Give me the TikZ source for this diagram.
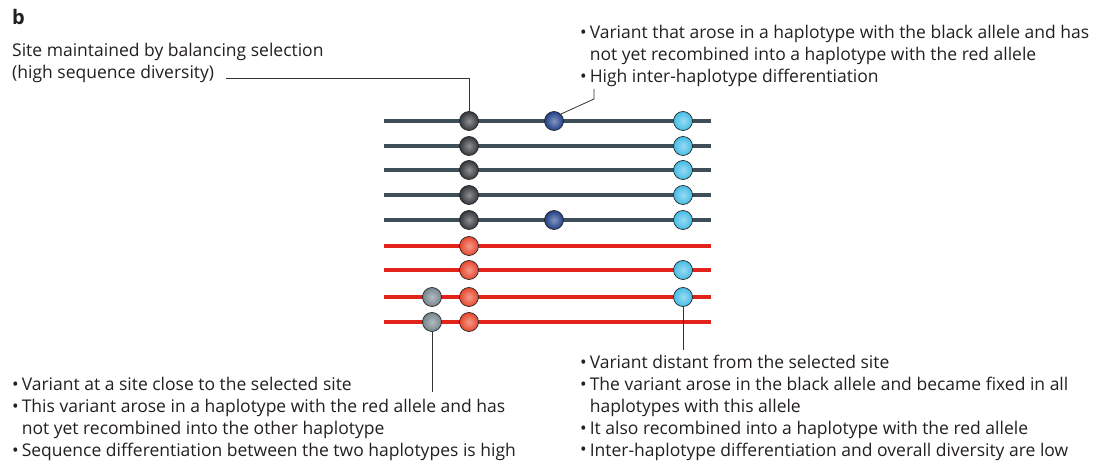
\documentclass[tikz,border=0pt]{standalone}
\usepackage{fontspec}
\setmainfont{Open Sans}
\usetikzlibrary{calc}
\definecolor{hapblack}{HTML}{3D4E58}
\definecolor{hapred}{HTML}{E2231A}
\definecolor{cblack}{HTML}{33373B}
\definecolor{cred}{HTML}{E8472C}
\definecolor{clblue}{HTML}{45BDE6}
\definecolor{cdblue}{HTML}{1F3F88}
\definecolor{cgrey}{HTML}{75848D}
\definecolor{txt}{HTML}{231F20}
\newcommand{\bul}{\raisebox{0.3pt}{\textbullet}}
\begin{document}
\begin{tikzpicture}[x=1pt,y=-1pt,
  hap/.style={line width=3.6pt},
  ballnode/.style={circle,minimum size=19pt,inner sep=0pt,draw=black!85,line width=0.7pt,inner color=#1!55!white,outer color=#1},
  leader/.style={draw=black!80,line width=0.8pt},
  txtblock/.style={anchor=base west,inner sep=0pt,text=txt,font=\fontsize{17.5}{21.8}\selectfont}
]
\useasboundingbox (0,0) rectangle (1112,462);
% haplotype lines
\foreach \y [count=\i] in {121,146,170,195,220}
  \draw[hap,hapblack] (384,\y) -- (711,\y);
\foreach \y in {246,270,297,322}
  \draw[hap,hapred] (384,\y) -- (711,\y);
% selected site
\foreach \y [count=\i] in {121,146,170,195,220}
  \node[ballnode=cblack] (s\i) at (469,\y) {};
\foreach \y [count=\i from 6] in {246,270,297,322}
  \node[ballnode=cred] (s\i) at (469,\y) {};
% blue variant
\node[ballnode=cdblue] (b1) at (554,121) {};
\node[ballnode=cdblue] (b5) at (554,220) {};
% light blue variant
\foreach \y/\n in {121/1,146/2,170/3,195/4,220/5,270/7,297/8}
  \node[ballnode=clblue] (l\n) at (683,\y) {};
% grey variant
\node[ballnode=cgrey] (g8) at (432,297) {};
\node[ballnode=cgrey] (g9) at (432,322) {};
% texts
\node[anchor=base west,inner sep=0pt,text=txt,font=\fontsize{20}{22}\selectfont\bfseries] (lab) at (12,25) {b};
\node[txtblock] (tsite) at (12,57) {%
\begin{tabular}[t]{@{}l@{}}
Site maintained by balancing selection\\
(high sequence diversity)
\end{tabular}};
\coordinate (tsiteend) at (226,78);
\node[txtblock] (tblue) at (580,39) {%
\begin{tabular}[t]{@{}l@{\hspace{3pt}}l@{}}
\bul&Variant that arose in a haplotype with the black allele and has\\
&not yet recombined into a haplotype with the red allele\\
\bul&High inter-haplotype differentiation
\end{tabular}};
\node[txtblock] (tgrey) at (12,391) {%
\begin{tabular}[t]{@{}l@{\hspace{3pt}}l@{}}
\bul&Variant at a site close to the selected site\\
\bul&This variant arose in a haplotype with the red allele and has\\
&not yet recombined into the other haplotype\\
\bul&Sequence differentiation between the two haplotypes is high
\end{tabular}};
\node[txtblock] (tlblue) at (580,369) {%
\begin{tabular}[t]{@{}l@{\hspace{3pt}}l@{}}
\bul&Variant distant from the selected site\\
\bul&The variant arose in the black allele and became fixed in all\\
&haplotypes with this allele\\
\bul&It also recombined into a haplotype with the red allele\\
\bul&Inter-haplotype differentiation and overall diversity are low
\end{tabular}};
% leaders
\coordinate (bend1) at (469,78);
\draw[leader] (tsiteend) -- (bend1) -- (s1.north);
\coordinate (bend2) at (594,99);
\coordinate (bend2top) at (594,89);
\draw[leader] (b1.north east) -- (bend2) -- (bend2top);
\coordinate (gend) at (432,392);
\draw[leader] (g9.south) -- (gend);
\coordinate (lend) at (683,350);
\draw[leader] (l8.south) -- (lend);
\end{tikzpicture}
\end{document}
